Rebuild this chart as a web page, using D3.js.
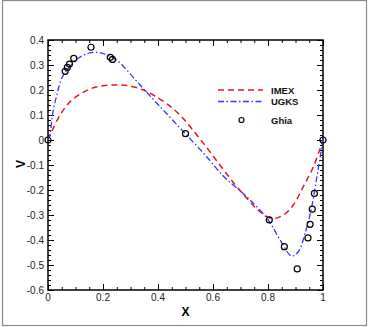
<!DOCTYPE html>
<html>
<head>
<meta charset="utf-8">
<script src="https://cdn.jsdelivr.net/npm/d3@7"></script>
<style>
  body { margin: 0; background: #fff; }
  svg { display: block; font-family: "Liberation Sans", Arial, sans-serif; }
</style>
</head>
<body>
<script>
// data
var imexX = [0, 0.013, 0.044, 0.08, 0.122, 0.171, 0.232, 0.292, 0.347, 0.383, 0.432, 0.48, 0.528, 0.577, 0.625, 0.674, 0.723, 0.771, 0.815, 0.856, 0.892, 0.928, 0.965, 1];
var imexV = [0, 0.033, 0.1, 0.153, 0.187, 0.211, 0.22, 0.217, 0.2, 0.18, 0.145, 0.1, 0.038, -0.03, -0.1, -0.17, -0.233, -0.287, -0.314, -0.3, -0.26, -0.187, -0.107, 0];

var ugksX = [0, 0.007, 0.016, 0.032, 0.05, 0.074, 0.11, 0.147, 0.177, 0.207, 0.25, 0.292, 0.335, 0.407, 0.498, 0.577, 0.638, 0.698, 0.735, 0.801, 0.844, 0.886, 0.91, 0.935, 0.959, 0.98, 1];
var ugksV = [0, 0.02, 0.1, 0.18, 0.247, 0.287, 0.327, 0.347, 0.351, 0.343, 0.32, 0.273, 0.22, 0.134, 0.027, -0.067, -0.145, -0.203, -0.24, -0.32, -0.4, -0.464, -0.447, -0.373, -0.267, -0.133, 0];

var ghiaX = [0, 0.0625, 0.0703, 0.0781, 0.0938, 0.1563, 0.2266, 0.2344, 0.5, 0.8047, 0.8594, 0.9063, 0.9453, 0.9531, 0.9609, 0.9688, 1];
var ghiaV = [0, 0.27485, 0.29012, 0.30353, 0.32627, 0.37095, 0.33075, 0.32235, 0.02526, -0.31966, -0.42665, -0.5155, -0.39188, -0.33714, -0.27669, -0.21388, 0];

var xTicks = [0, 0.2, 0.4, 0.6, 0.8, 1];
var xTickLabels = ["0", "0.2", "0.4", "0.6", "0.8", "1"];
var yTicks = [0.4, 0.3, 0.2, 0.1, 0, -0.1, -0.2, -0.3, -0.4, -0.5, -0.6];
var yTickLabels = ["0.4", "0.3", "0.2", "0.1", "0", "-0.1", "-0.2", "-0.3", "-0.4", "-0.5", "-0.6"];

var W = 368, H = 327;
var margin = {top: 40, right: 45, bottom: 37, left: 48};
var width = W - margin.left - margin.right;
var height = H - margin.top - margin.bottom;

var svg = d3.select("body").append("svg")
    .attr("width", W)
    .attr("height", H);

// outer frame
svg.append("rect")
    .attr("x", 2.5).attr("y", 0.5)
    .attr("width", 364).attr("height", 325)
    .attr("fill", "none")
    .attr("stroke", "#8a8a8a")
    .attr("stroke-width", 1.2);

var g = svg.append("g")
    .attr("transform", "translate(" + margin.left + "," + margin.top + ")");

var x = d3.scaleLinear().domain([0, 1]).range([0, width]);
var y = d3.scaleLinear().domain([-0.6, 0.4]).range([height, 0]);

// minor ticks
var xMinor = d3.range(0, 1.0001, 0.05);
var yMinor = d3.range(-0.6, 0.4001, 0.02);

function tickAxis(axisFn, scale, values, size) {
  return axisFn(scale).tickValues(values).tickSize(size).tickFormat("");
}

// inward ticks on all four sides
var bottomG = g.append("g").attr("transform", "translate(0," + height + ")");
bottomG.append("g").call(tickAxis(d3.axisTop, x, xMinor, 3));
bottomG.append("g").call(tickAxis(d3.axisTop, x, xTicks, 6));
var topG = g.append("g");
topG.append("g").call(tickAxis(d3.axisBottom, x, xMinor, 3));
topG.append("g").call(tickAxis(d3.axisBottom, x, xTicks, 6));
var leftG = g.append("g");
leftG.append("g").call(tickAxis(d3.axisRight, y, yMinor, 3));
leftG.append("g").call(tickAxis(d3.axisRight, y, yTicks, 6));
var rightG = g.append("g").attr("transform", "translate(" + width + ",0)");
rightG.append("g").call(tickAxis(d3.axisLeft, y, yMinor, 3));
rightG.append("g").call(tickAxis(d3.axisLeft, y, yTicks, 6));

g.selectAll(".domain").remove();
g.selectAll(".tick line").attr("stroke", "#000").attr("stroke-width", 1);

// frame of the plot
g.append("rect")
    .attr("width", width).attr("height", height)
    .attr("fill", "none")
    .attr("stroke", "#000")
    .attr("stroke-width", 1.5);

// tick labels
g.selectAll(".xlab").data(xTicks).enter().append("text")
    .attr("x", function(d) { return x(d); })
    .attr("y", height + 11)
    .attr("text-anchor", "middle")
    .attr("font-size", 10)
    .attr("fill", "#222")
    .text(function(d, i) { return xTickLabels[i]; });

g.selectAll(".ylab").data(yTicks).enter().append("text")
    .attr("x", -4)
    .attr("y", function(d) { return y(d) + 3.5; })
    .attr("text-anchor", "end")
    .attr("font-size", 10)
    .attr("fill", "#222")
    .text(function(d, i) { return yTickLabels[i]; });

// axis titles
g.append("text")
    .attr("x", x(0.5))
    .attr("y", height + 26)
    .attr("text-anchor", "middle")
    .attr("font-size", 12)
    .attr("font-weight", "bold")
    .text("X");

g.append("text")
    .attr("transform", "translate(-23," + (y(-0.1) - 1) + ") rotate(-90)")
    .attr("text-anchor", "middle")
    .attr("font-size", 12)
    .attr("font-weight", "bold")
    .text("V");

// lines
var line = d3.line()
    .x(function(d) { return x(d[0]); })
    .y(function(d) { return y(d[1]); })
    .curve(d3.curveCatmullRom);

g.append("path")
    .datum(d3.zip(imexX, imexV))
    .attr("fill", "none")
    .attr("stroke", "#e3171b")
    .attr("stroke-width", 1.5)
    .attr("stroke-dasharray", "6,4")
    .attr("d", line);

g.append("path")
    .datum(d3.zip(ugksX, ugksV))
    .attr("fill", "none")
    .attr("stroke", "#3535ff")
    .attr("stroke-width", 1.3)
    .attr("stroke-dasharray", "6,2.5,1.5,2.5")
    .attr("d", line);

// Ghia points
g.selectAll(".ghia").data(d3.zip(ghiaX, ghiaV)).enter().append("circle")
    .attr("cx", function(d) { return x(d[0]); })
    .attr("cy", function(d) { return y(d[1]); })
    .attr("r", 3)
    .attr("fill", "none")
    .attr("stroke", "#000")
    .attr("stroke-width", 1.2);

// legend
var legend = svg.append("g");
legend.append("line")
    .attr("x1", 218).attr("x2", 263).attr("y1", 90).attr("y2", 90)
    .attr("stroke", "#e3171b").attr("stroke-width", 1.5)
    .attr("stroke-dasharray", "6,4");
legend.append("line")
    .attr("x1", 218).attr("x2", 263).attr("y1", 101.5).attr("y2", 101.5)
    .attr("stroke", "#3535ff").attr("stroke-width", 1.3)
    .attr("stroke-dasharray", "6,2.5,1.5,2.5");
legend.append("circle")
    .attr("cx", 241.5).attr("cy", 120).attr("r", 2.5)
    .attr("fill", "none").attr("stroke", "#000").attr("stroke-width", 1.2);

var legendText = ["IMEX", "UGKS", "Ghia"];
var legendY = [90, 101.5, 120];
legend.selectAll("text").data(legendText).enter().append("text")
    .attr("x", 271)
    .attr("y", function(d, i) { return legendY[i] + 3.5; })
    .attr("font-size", 9.5)
    .attr("font-weight", "bold")
    .attr("fill", "#111")
    .text(function(d) { return d; });
</script>
</body>
</html>
